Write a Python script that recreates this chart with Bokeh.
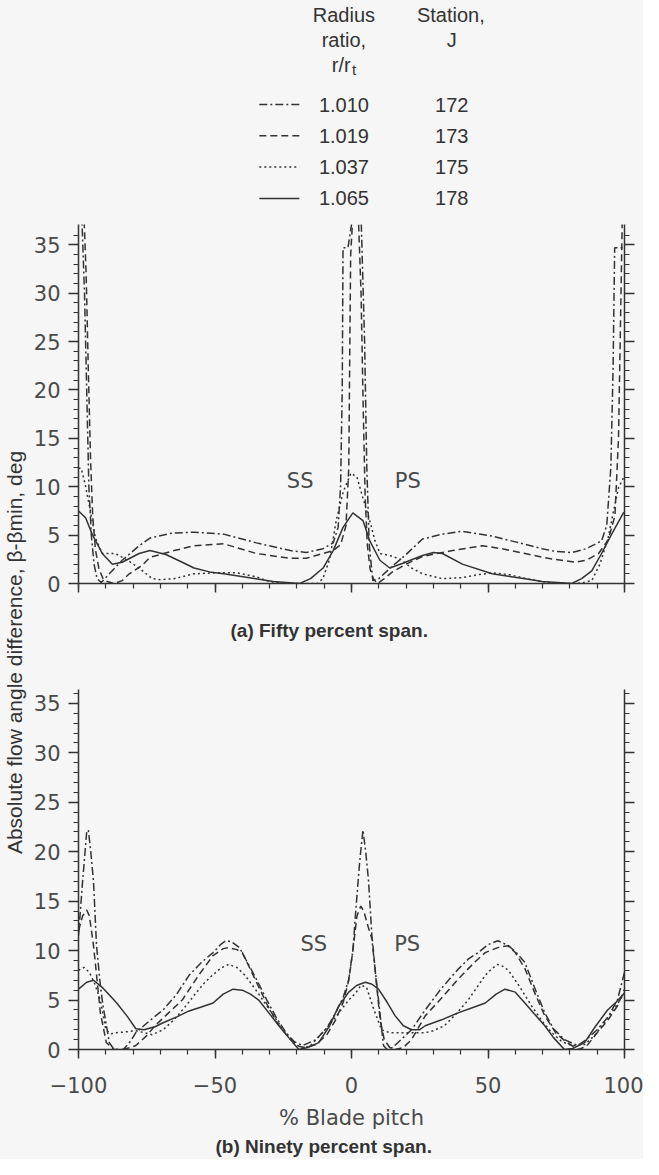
import numpy as np
from bokeh.plotting import figure
from bokeh.models import Range1d, FixedTicker, LinearAxis, Title, Label, CustomJSTickFormatter
from bokeh.layouts import row, column
from bokeh.core.properties import value
from bokeh.embed import file_html
from bokeh.resources import INLINE

# ------------------------------------------------------------------ data
radius_ratio = ["1.010", "1.019", "1.037", "1.065"]
station_j = ["172", "173", "175", "178"]

# (a) Fifty percent span: (% blade pitch, beta - beta_min deg)
fifty_1010 = [(-100, 38), (-98.8, 38), (-97.8, 30), (-97.0, 20), (-96.2, 10), (-95.3, 5), (-94.3, 2),
              (-93.2, 0.5), (-91.7, 0.1), (-88.7, 1.0), (-84.0, 2.4), (-77.8, 3.9), (-73.8, 4.7),
              (-66.0, 5.2), (-57.7, 5.3), (-46.8, 5.1), (-34.8, 4.2), (-22.4, 3.4), (-16.6, 3.2),
              (-10.4, 3.6), (-6.7, 4.2), (-4.9, 5.8), (-4.0, 10), (-3.4, 20), (-3.1, 34.7), (-1.3, 34.7),
              (0.5, 38), (3.5, 38), (4.8, 25), (5.6, 12), (6.5, 4), (7.8, 0.3), (10.0, 0.5), (15.0, 1.8),
              (20.0, 3.0), (26.0, 4.6), (33.3, 5.1), (40.6, 5.4), (51.5, 4.9), (60.0, 4.3), (69.8, 3.6),
              (75.0, 3.3), (80.7, 3.2), (86.0, 3.6), (91.6, 4.4), (93.5, 6), (95.0, 12), (95.8, 22),
              (96.4, 34.7), (100, 34.7)]
fifty_1019 = [(-100, 38), (-98.0, 38), (-97.2, 32), (-96.4, 22), (-95.6, 13), (-94.8, 7), (-93.8, 3.5),
              (-92.5, 1.5), (-91.0, 0.5), (-89.5, 0.2), (-87.0, 0), (-84.0, 0.3), (-81.4, 1.0), (-77.0, 1.8),
              (-73.8, 2.7), (-65.0, 3.4), (-57.7, 3.9), (-46.8, 4.1), (-34.8, 3.1), (-22.4, 2.6),
              (-16.6, 2.6), (-10.4, 3.1), (-6.7, 3.4), (-4.0, 4.0), (-2.0, 6.0), (-1.0, 12), (-0.6, 25),
              (-0.3, 34), (0.5, 38), (2.5, 38), (3.5, 30), (4.3, 18), (5.0, 9), (5.8, 4), (6.8, 1.5),
              (8.0, 0.5), (9.5, 0), (12.0, 0.5), (15.0, 1.2), (20.0, 2.0), (26.0, 2.8), (37.0, 3.4),
              (48.0, 3.9), (55.0, 3.6), (63.6, 3.1), (72.0, 2.6), (81.8, 2.2), (86.0, 2.4), (90.5, 3.1),
              (94.0, 4.5), (96.5, 7), (97.8, 15), (98.6, 28), (99.2, 38), (100, 38)]
fifty_1037 = [(-100, 11.9), (-99, 11.9), (-97.6, 10.3), (-96, 8.0), (-93.8, 4.7), (-91.3, 3.1), (-86.5, 3.1),
              (-82, 2.4), (-77.8, 1.6), (-73, 0.5), (-70, 0.4), (-65, 0.5), (-57.7, 1.0), (-50, 1.1),
              (-42, 1.1), (-35, 0.7), (-30, 0.2), (-25, 0), (-12.5, 0), (-10.5, 0.5), (-8, 2.5), (-5.6, 6.5),
              (-3, 9.5), (-0.2, 11.4), (2, 11.0), (4, 9.0), (6.7, 6.5), (8.5, 4.5), (10.4, 3.1), (14, 2.9),
              (18, 2.5), (22, 1.6), (26, 1.0), (33.3, 0.5), (40.6, 0.6), (46, 0.9), (51.5, 1.1), (58, 0.9),
              (64, 0.5), (69.8, 0.2), (75, 0), (82, 0), (85, 0.1), (88, 0.3), (91, 2.0), (94, 4.7),
              (96, 7.5), (97.8, 9.9), (99.6, 10.9), (100, 11.0)]
fifty_1065 = [(-100, 7.5), (-97.4, 6.8), (-95, 5.1), (-91.3, 3.1), (-87.6, 2.0), (-84, 2.2), (-77.8, 3.1),
              (-73.8, 3.4), (-68, 3.0), (-62, 2.2), (-57.7, 1.6), (-52, 1.2), (-46.8, 1.0), (-35, 0.5),
              (-28.7, 0.2), (-19, 0), (-15, 0.5), (-10.4, 1.6), (-6.7, 3.4), (-3.1, 5.8), (0.5, 7.3),
              (4.2, 6.5), (6.7, 4.4), (10.4, 2.4), (14, 1.6), (18.8, 2.1), (26, 2.9), (30, 3.2), (33.3, 3.1),
              (40.6, 2.0), (51.5, 1.0), (63.6, 0.5), (69.8, 0.2), (80.7, 0), (84.3, 0.5), (88, 1.3),
              (91.6, 3.1), (95.3, 5.1), (99.6, 7.3), (100, 7.3)]

# (b) Ninety percent span
ninety_1010 = [(-100, 11.5), (-98.5, 17), (-97, 22), (-96.4, 22.2), (-95.5, 20), (-94.5, 17), (-93.4, 10.5),
               (-92, 6.5), (-91, 4.4), (-88.7, 0.7), (-87, 0), (-83.6, 0), (-81, 0.8), (-79, 1.7), (-74, 2.9),
               (-69, 4.0), (-64, 5.6), (-59.5, 7.5), (-55, 8.8), (-50.7, 9.8), (-48, 10.6), (-46, 11.0),
               (-44, 10.9), (-41, 10.3), (-38.7, 9.1), (-35, 7.2), (-31, 5.0), (-27.5, 3.2), (-24, 1.7),
               (-21, 0.8), (-17.9, 0.4), (-13, 1.0), (-9, 2.2), (-5.8, 3.7), (-3, 5.3), (-1, 7.1), (0.5, 10),
               (1.5, 13.8), (3, 19), (4.2, 22.2), (5.2, 20), (6.2, 17.2), (7.7, 10.5), (9.9, 5.0), (11.7, 0.4),
               (13, 0), (15, 0.2), (17, 0.7), (22, 2.0), (27, 4.0), (33, 6.2), (39, 8.1), (43, 9.2),
               (46.4, 9.8), (50, 10.6), (53.6, 11.0), (57.5, 10.5), (60, 9.9), (63.5, 8.8), (67, 6.3),
               (70.8, 3.7), (74, 2.1), (78, 1.0), (82.8, 0.4), (86, 1.0), (90, 2.0), (94, 3.3), (97.4, 5.0),
               (100, 7.8)]
ninety_1019 = [(-100, 12), (-98.5, 13.5), (-97, 14.1), (-96, 13.5), (-94.5, 10.5), (-93, 6.5), (-92, 3.7),
               (-89.8, 0.7), (-87, 0), (-84, 0), (-81, 0.2), (-79, 0.4), (-75, 1.4), (-72, 2.4), (-67, 3.7),
               (-62, 5.0), (-56, 7.5), (-50.7, 9.5), (-47, 10.2), (-45, 10.3), (-42, 10.1), (-40, 9.8),
               (-36, 7.5), (-31, 4.6), (-27, 2.6), (-23, 1.2), (-19, 0.3), (-17, 0.2), (-13, 0.5), (-9, 1.5),
               (-5.8, 3.0), (-3, 4.8), (-1, 7.0), (0.5, 10), (2, 13.5), (3.4, 14.5), (4.5, 14), (6, 12.5),
               (7.7, 11), (9, 7), (10.5, 3), (12, 1), (14, 0.2), (16, 0), (19, 0.2), (22, 1.0), (27, 3.4),
               (33, 5.2), (39, 7.1), (45, 8.8), (49, 9.8), (53.6, 10.3), (57.3, 10.5), (60, 9.8), (63.5, 8.2),
               (67, 5.8), (70.8, 3.4), (75, 1.6), (79, 0.7), (83, 0), (86, 0.3), (90, 1.7), (94, 3.0),
               (97.4, 4.4), (100, 6.1)]
ninety_1037 = [(-100, 8.0), (-98, 8.3), (-96, 7.8), (-94, 6.6), (-92, 5.0), (-90, 2.0), (-88, 1.6), (-86, 1.7),
               (-82, 1.8), (-79, 1.9), (-76, 1.7), (-73, 1.5), (-69, 2.0), (-65, 3.0), (-61, 4.3), (-57, 5.7),
               (-54, 6.7), (-51, 7.5), (-48, 8.2), (-45, 8.6), (-42, 8.3), (-39, 7.5), (-35, 6.0), (-31, 4.4),
               (-27, 2.8), (-24, 1.6), (-21.5, 0.7), (-18, 0.1), (-15, 0.4), (-12, 1.3), (-8, 2.5), (-4.7, 3.7),
               (-1, 5.0), (1.5, 5.7), (3.5, 6.5), (5.5, 6.3), (8, 4.2), (11, 2.0), (14, 1.7), (18, 1.7),
               (22, 1.7), (27, 1.7), (30, 1.9), (34, 2.4), (38, 3.5), (42.7, 5.0), (46, 6.3), (49, 7.5),
               (51.5, 8.2), (53.6, 8.6), (55.5, 8.4), (57.5, 8.0), (61, 6.6), (66, 4.4), (70, 2.8),
               (73.4, 1.7), (77, 0.8), (80.7, 0.4), (85.4, 0.5), (89, 1.4), (92.6, 2.7), (96, 4.0), (100, 5.7)]
ninety_1065 = [(-100, 6.1), (-97, 6.8), (-94.5, 7.0), (-91, 6.2), (-88, 5.3), (-86, 4.7), (-82, 3.3),
               (-79, 2.1), (-76, 2.0), (-72, 2.3), (-69, 2.7), (-64, 3.3), (-59.5, 3.9), (-55, 4.3),
               (-50.7, 4.7), (-47, 5.6), (-43.4, 6.1), (-40, 6.0), (-37, 5.6), (-34, 5.0), (-30, 3.6),
               (-26.6, 2.4), (-23, 1.2), (-19.3, 0), (-16, 0.2), (-12, 0.7), (-8, 2.4), (-4.7, 4.4),
               (-1, 5.8), (2, 6.5), (5.1, 6.8), (7.5, 6.6), (9.9, 6.1), (13, 4.8), (16, 3.4), (19, 2.4),
               (22, 2.0), (25, 2.0), (27, 2.4), (33, 3.0), (39, 3.7), (44, 4.2), (49, 4.7), (53, 5.6),
               (56.2, 6.1), (60, 5.8), (63.5, 4.7), (67, 3.6), (70.8, 2.4), (74, 1.2), (78, 0), (81, 0.1),
               (85.4, 0.7), (89, 2.2), (93.8, 4.0), (97, 4.8), (100, 5.7)]

xtick_values = [-100, -50, 0, 50, 100]
xtick_labels = ["\u2212100", "\u221250", "0", "50", "100"]
ytick_values = [0, 5, 10, 15, 20, 25, 30, 35]
side_labels = ["SS", "PS"]

# ------------------------------------------------------------------ style
INK = "#333333"
TICK_INK = "#4a4a4a"
BG = "#f6f6f6"
TXT = "Liberation Sans"
PFONT = "DejaVu Sans"
DASHES = ["8 3 2 3", "7 4", "2 3", "solid"]
FIG_W = 613


def style_axis(ax, tick_out=10, minor_out=5):
    ax.axis_line_color = INK
    ax.axis_line_width = 1.5
    ax.major_tick_line_color = INK
    ax.major_tick_line_width = 1.5
    ax.minor_tick_line_color = INK
    ax.minor_tick_line_width = 1.2
    ax.major_tick_in = 0
    ax.major_tick_out = tick_out
    ax.minor_tick_in = 0
    ax.minor_tick_out = minor_out
    ax.major_label_text_font = PFONT
    ax.major_label_text_color = TICK_INK
    ax.major_label_text_font_size = "21px"


def hide_labels(ax):
    ax.formatter = CustomJSTickFormatter(code="return ''")
    ax.major_label_text_font_size = "0px"
    ax.major_label_standoff = 0


def make_panel(series, height, b_top, b_bottom, y_top, show_x, side_x, side_y,
               caption, cap_offset, cap_standoff):
    p = figure(width=FIG_W, height=height, x_range=Range1d(-100, 100), y_range=Range1d(0, y_top),
               output_backend="svg", toolbar_location=None,
               min_border_left=46, min_border_right=19, min_border_top=b_top, min_border_bottom=b_bottom,
               background_fill_color=BG, border_fill_color=BG, outline_line_color=None)
    p.xgrid.visible = False
    p.ygrid.visible = False
    for pts, dash in zip(series, DASHES):
        xs = [pt[0] for pt in pts]
        ys = [pt[1] for pt in pts]
        p.line(xs, ys, line_color=INK, line_width=1.5, line_dash=dash)

    yax = p.yaxis[0]
    yax.ticker = FixedTicker(ticks=ytick_values, minor_ticks=list(range(0, 37)))
    style_axis(yax)
    yax.major_label_standoff = 8

    rax = LinearAxis(ticker=FixedTicker(ticks=ytick_values, minor_ticks=list(range(0, 37))))
    style_axis(rax)
    hide_labels(rax)
    p.add_layout(rax, "right")

    xax = p.xaxis[0]
    xax.ticker = FixedTicker(ticks=xtick_values, minor_ticks=list(range(-100, 101, 10)))
    style_axis(xax, tick_out=9, minor_out=5)
    if show_x:
        xax.major_label_overrides = {v: t for v, t in zip(xtick_values, xtick_labels)}
        xax.major_label_standoff = 18
        xax.axis_label = "% Blade pitch"
        xax.axis_label_text_font = PFONT
        xax.axis_label_text_font_style = "normal"
        xax.axis_label_text_font_size = "21px"
        xax.axis_label_text_color = TICK_INK
        xax.axis_label_standoff = 10
    else:
        hide_labels(xax)

    p.text(x=side_x, y=[side_y, side_y], text=side_labels, text_font=value(PFONT),
           text_font_size="21px", text_color=TICK_INK, text_align="center", text_baseline="middle")

    p.add_layout(Title(text=caption, align="left", offset=cap_offset, standoff=cap_standoff,
                       text_font=TXT, text_font_size="19px", text_font_style="bold",
                       text_color=INK), "below")
    return p


pa = make_panel([fifty_1010, fifty_1019, fifty_1037, fifty_1065], 449, 7, 82, 37.1, False,
                [-18.8, 20.6], 10.6, "(a) Fifty percent span.", 152, 51)
pb = make_panel([ninety_1010, ninety_1019, ninety_1037, ninety_1065], 493, 23, 110, 36.4, True,
                [-13.8, 20.4], 10.7, "(b) Ninety percent span.", 137, 2)

# ------------------------------------------------------------------ legend block
lg = figure(width=FIG_W, height=217, x_range=Range1d(0, FIG_W), y_range=Range1d(217, 0),
            output_backend="svg", toolbar_location=None, min_border=0,
            x_axis_location=None, y_axis_location=None, outline_line_color=None,
            background_fill_color=BG, border_fill_color=BG)
lg.xgrid.visible = False
lg.ygrid.visible = False
hdr = dict(text_font=value(TXT), text_font_size="20px", text_color=INK,
           text_align="center", text_baseline="middle")
lg.text(x=[298, 298, 418, 419], y=[14, 39, 14, 39], text=["Radius", "ratio,", "Station,", "J"], **hdr)
lg.text(x=[295], y=[64], text=["r/r"], **hdr)
lg.text(x=[309.5], y=[69], text=["t"], text_font=value(TXT), text_font_size="15px", text_color=INK,
        text_align="center", text_baseline="middle")
row_y = [104 + 31.3 * i for i in range(len(radius_ratio))]
for yy, dash in zip(row_y, DASHES):
    lg.line([203, 248], [yy, yy], line_color=INK, line_width=1.5, line_dash=dash)
lg.text(x=[298] * len(radius_ratio), y=row_y, text=radius_ratio, **hdr)
lg.text(x=[419] * len(station_j), y=row_y, text=station_j, **hdr)

# ------------------------------------------------------------------ shared y title
yl = figure(width=30, height=1159, x_range=Range1d(0, 30), y_range=Range1d(1159, 0),
            output_backend="svg", toolbar_location=None, min_border=0,
            x_axis_location=None, y_axis_location=None, outline_line_color=None,
            background_fill_color=BG, border_fill_color=BG)
yl.xgrid.visible = False
yl.ygrid.visible = False
yl.add_layout(Label(x=14, y=652, text="Absolute flow angle difference, \u03b2-\u03b2min, deg",
                    angle=np.pi / 2, text_align="center", text_baseline="middle",
                    text_font=TXT, text_font_size="21px", text_color=INK))

layout = row(yl, column(lg, pa, pb, styles={"background-color": BG}),
             styles={"background-color": BG})
open("out.html", "w").write(file_html(layout, INLINE))
